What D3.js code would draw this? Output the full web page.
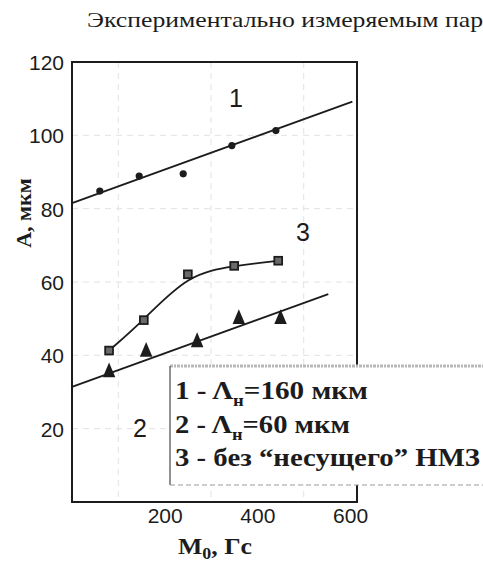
<!DOCTYPE html>
<html>
<head>
<meta charset="utf-8">
<script src="https://cdn.jsdelivr.net/npm/d3@7"></script>
<style>
  html, body { margin: 0; padding: 0; background: #fff; }
  svg { display: block; }
</style>
</head>
<body>
<svg id="chart" width="483" height="564"></svg>
<script>
// Amplitude A (мкм) versus field M0 (Гс) for three regimes
const xTicks = [200, 400, 600];
const yTicks = [20, 40, 60, 80, 100, 120];

// series 1: Λн = 160 мкм (circles)
const s1x = [60, 145, 240, 345, 440];
const s1y = [84.8, 88.9, 89.5, 97.2, 101.3];
// series 2: Λн = 60 мкм (triangles)
const s2x = [80, 160, 270, 360, 450];
const s2y = [35.1, 40.7, 43.3, 49.6, 49.6];
// series 3: без "несущего" НМЗ (squares)
const s3x = [80, 155, 250, 350, 445];
const s3y = [41.3, 49.6, 62.1, 64.4, 65.8];

// straight trend lines for series 1 and 2 (end points)
const fit1x = [0, 605];
const fit1y = [81.5, 109.2];
const fit2x = [0, 553];
const fit2y = [31.4, 56.7];

const legendLines = [
  { num: "1", lam: "Λ", sub: "н", rest: "=160 мкм" },
  { num: "2", lam: "Λ", sub: "н", rest: "=60 мкм" },
  { num: "3", text: "без “несущего” НМЗ" }
];

const svg = d3.select("#chart");
const ink = "#1c1c1c";
const L = 72, R = 357, T = 62, B = 502;

const x = d3.scaleLinear().domain([0, 615]).range([L, R]);
const y = d3.scaleLinear().domain([0, 120]).range([B, T]);

const zip = (a, b) => a.map((v, i) => [v, b[i]]);

// running header line above the figure
svg.append("text")
  .attr("x", 87).attr("y", 27)
  .attr("font-family", "'Liberation Serif', 'Times New Roman', serif")
  .attr("font-size", 22)
  .attr("fill", ink)
  .attr("textLength", 396)
  .attr("lengthAdjust", "spacingAndGlyphs")
  .text("Экспериментально измеряемым пар");

// faint grid
const grid = svg.append("g").attr("stroke", "#e2e2e2").attr("stroke-width", 1)
  .attr("stroke-dasharray", "6,5");
grid.selectAll("line.gy").data([20, 40, 60, 80, 100]).join("line")
  .attr("x1", L).attr("x2", R).attr("y1", d => y(d)).attr("y2", d => y(d));
grid.selectAll("line.gx").data([100, 300, 500]).join("line")
  .attr("y1", T).attr("y2", B).attr("x1", d => x(d)).attr("x2", d => x(d));

// axes via d3 axis generators, with the domain path hidden (frame drawn separately)
const tickFont = "'Liberation Sans', Arial, sans-serif";
const gy = svg.append("g").attr("transform", `translate(${L},0)`)
  .call(d3.axisLeft(y).tickValues(yTicks).tickSize(0).tickPadding(8));
gy.select(".domain").remove();
gy.selectAll("text").attr("font-family", tickFont).attr("font-size", 21)
  .attr("fill", ink).attr("dy", "0.36em");

const gx = svg.append("g").attr("transform", `translate(0,${B})`)
  .call(d3.axisBottom(x).tickValues(xTicks).tickSize(0).tickPadding(6));
gx.select(".domain").remove();
gx.selectAll("text").attr("font-family", tickFont).attr("font-size", 21)
  .attr("fill", ink);

// plot frame
svg.append("rect")
  .attr("x", L).attr("y", T).attr("width", R - L).attr("height", B - T)
  .attr("fill", "none").attr("stroke", ink).attr("stroke-width", 2);

// trend lines
const straight = d3.line().x(d => x(d[0])).y(d => y(d[1]));
const smooth = d3.line().x(d => x(d[0])).y(d => y(d[1])).curve(d3.curveBasis);
svg.append("path").datum(zip(fit1x, fit1y)).attr("d", straight)
  .attr("fill", "none").attr("stroke", ink).attr("stroke-width", 1.8);
svg.append("path").datum(zip(fit2x, fit2y)).attr("d", straight)
  .attr("fill", "none").attr("stroke", ink).attr("stroke-width", 1.8);
svg.append("path").datum(zip(s3x, s3y)).attr("d", smooth)
  .attr("fill", "none").attr("stroke", ink).attr("stroke-width", 1.8);

// markers
svg.append("g").selectAll("circle").data(zip(s1x, s1y)).join("circle")
  .attr("cx", d => x(d[0])).attr("cy", d => y(d[1])).attr("r", 3.6)
  .attr("fill", ink);

svg.append("g").selectAll("rect").data(zip(s3x, s3y)).join("rect")
  .attr("x", d => x(d[0]) - 3.9).attr("y", d => y(d[1]) - 3.9)
  .attr("width", 7.8).attr("height", 7.8)
  .attr("fill", "#6a6a6a").attr("stroke", ink).attr("stroke-width", 1.8);

const tri = d3.symbol().type(d3.symbolTriangle).size(75);
svg.append("g").selectAll("path").data(zip(s2x, s2y)).join("path")
  .attr("d", tri)
  .attr("transform", d => `translate(${x(d[0])},${y(d[1]) - 1}) scale(0.95,1.3)`)
  .attr("fill", ink);

// curve numbers
const numFont = "'Liberation Sans', Arial, sans-serif";
[["1", 236, 107], ["3", 303, 241], ["2", 140, 437]].forEach(([t, px, py]) => {
  svg.append("text").attr("x", px).attr("y", py)
    .attr("text-anchor", "middle")
    .attr("font-family", numFont).attr("font-size", 25)
    .attr("fill", ink).text(t);
});

// axis titles
const serif = "'Liberation Serif', 'Times New Roman', serif";
svg.append("text")
  .attr("transform", "translate(31,213) rotate(-90)")
  .attr("text-anchor", "middle")
  .attr("font-family", serif).attr("font-weight", "bold").attr("font-size", 22)
  .attr("fill", ink)
  .text("А, мкм");

const xl = svg.append("text")
  .attr("x", 178).attr("y", 554)
  .attr("font-family", serif).attr("font-weight", "bold").attr("font-size", 23)
  .attr("fill", ink)
  .attr("textLength", 74).attr("lengthAdjust", "spacingAndGlyphs");
xl.append("tspan").text("M");
xl.append("tspan").attr("font-size", 16).attr("dy", 5).text("0");
xl.append("tspan").attr("dy", -5).text(", Гс");

// legend box (white panel over the lower right of the frame)
const lg = svg.append("g");
lg.append("rect")
  .attr("x", 170).attr("y", 366).attr("width", 330).attr("height", 119)
  .attr("fill", "#fff");
lg.append("line").attr("x1", 170).attr("x2", 483).attr("y1", 366).attr("y2", 366)
  .attr("stroke", "#b8b8b8").attr("stroke-width", 3).attr("stroke-dasharray", "3,1,2,1");
lg.append("line").attr("x1", 170).attr("x2", 170).attr("y1", 366).attr("y2", 485)
  .attr("stroke", "#555").attr("stroke-width", 1.3);
lg.append("line").attr("x1", 170).attr("x2", 483).attr("y1", 485).attr("y2", 485)
  .attr("stroke", "#9a9a9a").attr("stroke-width", 1).attr("stroke-dasharray", "5,3");

const legendBase = [399, 433, 466];
const legendWidth = [193, 175, 305];
legendLines.forEach((d, i) => {
  const t = lg.append("text")
    .attr("x", 175).attr("y", legendBase[i])
    .attr("font-family", serif).attr("font-weight", "bold").attr("font-size", 25)
    .attr("fill", ink)
    .attr("textLength", legendWidth[i]).attr("lengthAdjust", "spacingAndGlyphs");
  if (d.lam) {
    t.append("tspan").text(d.num + " - " + d.lam);
    t.append("tspan").attr("font-size", 16).attr("dy", 7).text(d.sub);
    t.append("tspan").attr("dy", -7).text(d.rest);
  } else {
    t.append("tspan").text(d.num + " - " + d.text);
  }
});
</script>
</body>
</html>
